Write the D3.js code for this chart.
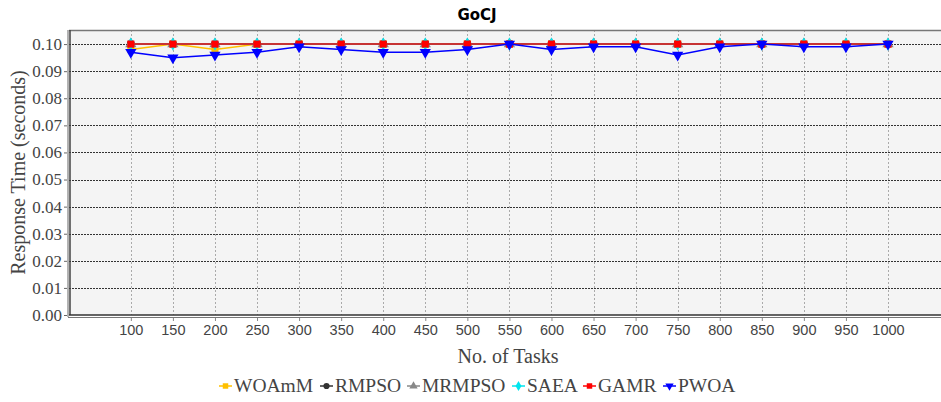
<!DOCTYPE html>
<html><head><meta charset="utf-8">
<script src="https://cdn.jsdelivr.net/npm/d3@7"></script>
<style>body{margin:0;background:#fff}svg{display:block}</style>
</head><body>
<script>
const tasks = [100,150,200,250,300,350,400,450,500,550,600,650,700,750,800,850,900,950,1000];
const woamm  = [0.098,0.100,0.098,0.100,0.100,0.100,0.100,0.100,0.100,0.100,0.100,0.100,0.100,0.100,0.100,0.100,0.100,0.100,0.100];
const rmpso  = [0.100,0.100,0.100,0.100,0.100,0.100,0.100,0.100,0.100,0.100,0.100,0.100,0.100,0.100,0.100,0.100,0.100,0.100,0.100];
const mrmpso = [0.100,0.100,0.100,0.100,0.100,0.100,0.100,0.100,0.100,0.100,0.100,0.100,0.100,0.100,0.100,0.100,0.100,0.100,0.100];
const saea   = [0.100,0.100,0.100,0.100,0.100,0.100,0.100,0.100,0.100,0.100,0.100,0.100,0.100,0.100,0.100,0.100,0.100,0.100,0.100];
const gamr   = [0.100,0.100,0.100,0.100,0.100,0.100,0.100,0.100,0.100,0.100,0.100,0.100,0.100,0.100,0.100,0.100,0.100,0.100,0.100];
const pwoa   = [0.097,0.095,0.096,0.097,0.099,0.098,0.097,0.097,0.098,0.100,0.098,0.099,0.099,0.096,0.099,0.100,0.099,0.099,0.100];
const yTicks = [0,0.01,0.02,0.03,0.04,0.05,0.06,0.07,0.08,0.09,0.10];
const seriesNames = ["WOAmM","RMPSO","MRMPSO","SAEA","GAMR","PWOA"];
const seriesColors = ["#FFC000","#333333","#888888","#00E5EE","#FF0000","#0000FF"];
const seriesShapes = ["square","circle","triangle","diamond","square","triangleDown"];
const seriesData = [woamm,rmpso,mrmpso,saea,gamr,pwoa];

const W=941,H=402;
const L=69,R=941,T=30,B=315;
const svg=d3.select("body").append("svg").attr("width",W).attr("height",H);
const x=d3.scaleLinear().domain([26.5,1063]).range([L,R]);
const y=d3.scaleLinear().domain([0,0.1052]).range([B,T]);

svg.append("rect").attr("x",L).attr("y",T).attr("width",R-L).attr("height",B-T).attr("fill","#f4f4f4");

// vertical grid
svg.append("g").selectAll("line").data(tasks).join("line")
  .attr("x1",d=>Math.round(x(d))+0.5).attr("x2",d=>Math.round(x(d))+0.5).attr("y1",T).attr("y2",B)
  .attr("stroke","#aaa").attr("stroke-width",1).attr("stroke-dasharray","2,2");
// horizontal grid
svg.append("g").selectAll("line").data(yTicks.slice(1)).join("line")
  .attr("x1",L).attr("x2",R).attr("y1",d=>Math.round(y(d))+0.5).attr("y2",d=>Math.round(y(d))+0.5)
  .attr("stroke","#333").attr("stroke-width",1).attr("stroke-dasharray","2,1");

// borders
svg.append("line").attr("x1",L).attr("x2",R).attr("y1",T+0.5).attr("y2",T+0.5).attr("stroke","#777").attr("stroke-width",1.5);
svg.append("line").attr("x1",L-1).attr("x2",L-1).attr("y1",T).attr("y2",B+2).attr("stroke","#666").attr("stroke-width",1);
svg.append("line").attr("x1",L+1).attr("x2",L+1).attr("y1",T).attr("y2",B).attr("stroke","#444").attr("stroke-width",1.5);
svg.append("line").attr("x1",L).attr("x2",R).attr("y1",B).attr("y2",B).attr("stroke","#333").attr("stroke-width",1.5);
svg.append("line").attr("x1",L-1).attr("x2",R).attr("y1",B+2.5).attr("y2",B+2.5).attr("stroke","#777").attr("stroke-width",1);

// axes
const xAxis=svg.append("g").attr("transform",`translate(0,${B+3})`)
  .call(d3.axisBottom(x).tickValues(tasks).tickSize(3).tickPadding(4).tickFormat(d3.format("d")));
xAxis.select(".domain").remove();
xAxis.selectAll("line").attr("stroke","#888");
xAxis.selectAll("text").attr("font-family","'Liberation Sans',Arial,sans-serif").attr("font-size",14.5).attr("fill","#444");

const yAxis=svg.append("g").attr("transform",`translate(${L-2},0)`)
  .call(d3.axisLeft(y).tickValues(yTicks).tickSize(3).tickPadding(2).tickFormat(d3.format(".2f")));
yAxis.select(".domain").remove();
yAxis.selectAll("line").attr("stroke","#666");
yAxis.selectAll("text").attr("font-family","'Liberation Serif','Times New Roman',serif").attr("font-size",17).attr("fill","#444");

// title and labels
svg.append("text").attr("x",477).attr("y",20).attr("text-anchor","middle")
  .attr("font-family","'DejaVu Sans',sans-serif").attr("font-weight","bold").attr("font-size",15).text("GoCJ");
svg.append("text").attr("x",508).attr("y",363).attr("text-anchor","middle")
  .attr("font-family","'Liberation Serif',serif").attr("font-size",20).attr("fill","#444").text("No. of Tasks");
svg.append("text").attr("transform",`translate(25,${(T+B)/2}) rotate(-90)`).attr("text-anchor","middle")
  .attr("font-family","'Liberation Serif',serif").attr("font-size",20).attr("fill","#444").text("Response Time (seconds)");

function symPath(shape,size){
  const m={square:d3.symbolSquare,circle:d3.symbolCircle,triangle:d3.symbolTriangle,diamond:d3.symbolDiamond,triangleDown:d3.symbolTriangle};
  return d3.symbol().type(m[shape]).size(size)();
}

const line=d3.line().x((d,i)=>x(tasks[i])).y(d=>y(d));
seriesData.forEach((data,k)=>{
  const g=svg.append("g");
  g.append("path").datum(data).attr("d",line).attr("fill","none").attr("stroke",seriesColors[k]).attr("stroke-width",1.5);
  g.selectAll("path.m").data(data).join("path").attr("class","m")
    .attr("d",symPath(seriesShapes[k],seriesShapes[k].startsWith("triangle")?55:50))
    .attr("transform",(d,i)=>`translate(${x(tasks[i])},${y(d)})${seriesShapes[k]==="triangleDown"?" rotate(180)":""}`)
    .attr("fill",seriesColors[k]);
});

// legend
const legX=[219,320,407,512,583,663];
const lg=svg.append("g");
seriesNames.forEach((n,k)=>{
  const cx=legX[k]+6.5, cy=386;
  lg.append("line").attr("x1",legX[k]).attr("x2",legX[k]+13).attr("y1",cy).attr("y2",cy).attr("stroke",seriesColors[k]).attr("stroke-width",1.5);
  lg.append("path").attr("d",symPath(seriesShapes[k],30))
    .attr("transform",`translate(${cx},${cy})${seriesShapes[k]==="triangleDown"?" rotate(180)":""}`).attr("fill",seriesColors[k]);
  lg.append("text").attr("x",legX[k]+15).attr("y",cy+6).attr("font-family","'Liberation Serif',serif").attr("font-size",19.5).attr("fill","#444").text(n);
});
</script>
</body></html>
